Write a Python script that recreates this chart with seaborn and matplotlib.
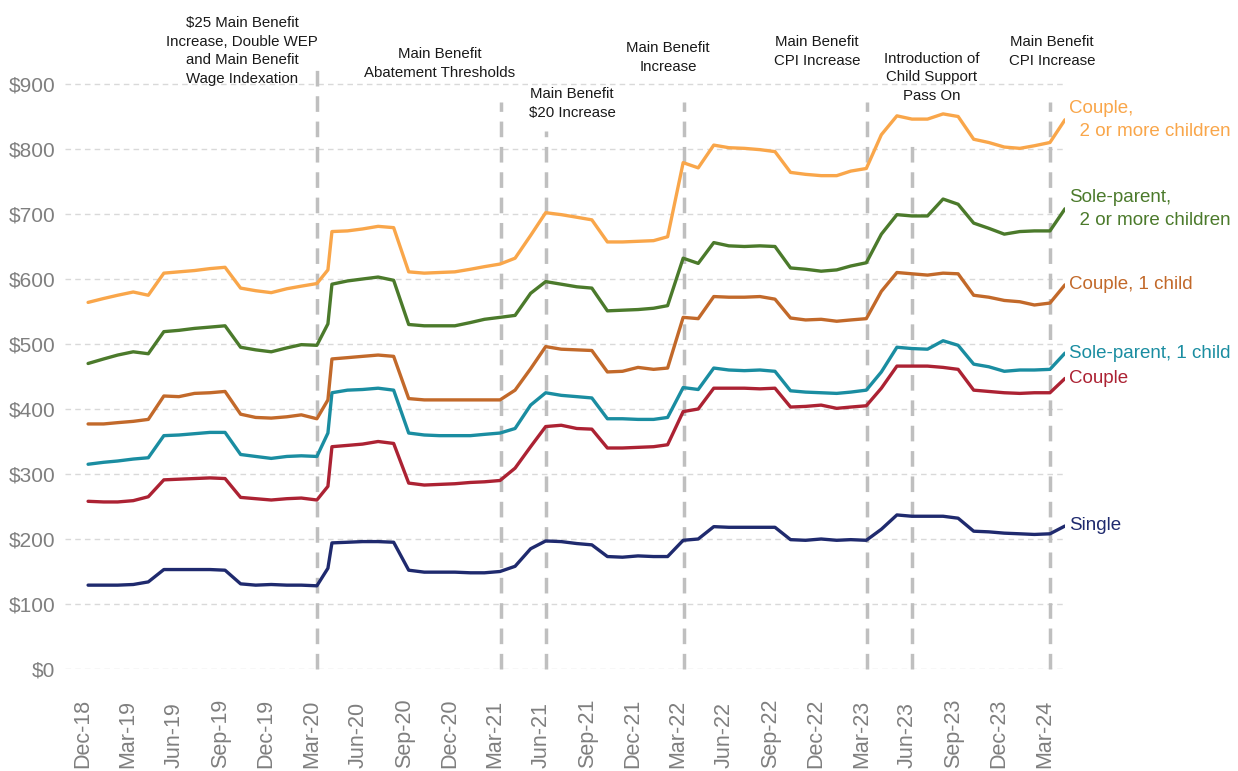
import numpy as np
import pandas as pd
import matplotlib
matplotlib.use("Agg")
import matplotlib.pyplot as plt
import matplotlib.transforms as mtransforms
import seaborn as sns

# Month-end observation dates (plus one mid-April 2020 reading)
dates = [
    "2018-12-31", "2019-01-31", "2019-02-28", "2019-03-31", "2019-04-30", "2019-05-31",
    "2019-06-30", "2019-07-31", "2019-08-31", "2019-09-30", "2019-10-31", "2019-11-30",
    "2019-12-31", "2020-01-31", "2020-02-29", "2020-03-31", "2020-04-22", "2020-04-30",
    "2020-05-31", "2020-06-30", "2020-07-31", "2020-08-31", "2020-09-30", "2020-10-31",
    "2020-11-30", "2020-12-31", "2021-01-31", "2021-02-28", "2021-03-31", "2021-04-30",
    "2021-05-31", "2021-06-30", "2021-07-31", "2021-08-31", "2021-09-30", "2021-10-31",
    "2021-11-30", "2021-12-31", "2022-01-31", "2022-02-28", "2022-03-31", "2022-04-30",
    "2022-05-31", "2022-06-30", "2022-07-31", "2022-08-31", "2022-09-30", "2022-10-31",
    "2022-11-30", "2022-12-31", "2023-01-31", "2023-02-28", "2023-03-31", "2023-04-30",
    "2023-05-31", "2023-06-30", "2023-07-31", "2023-08-31", "2023-09-30", "2023-10-31",
    "2023-11-30", "2023-12-31", "2024-01-31", "2024-02-29", "2024-03-31", "2024-04-30",
]

couple_2plus = [
    564, 570, 575, 580, 575, 609, 611, 613, 616, 618, 586, 582,
    579, 585, 589, 593, 614, 673, 674, 677, 681, 679, 611, 609,
    610, 611, 615, 619, 623, 632, 667, 702, 699, 695, 691, 657,
    657, 658, 659, 665, 779, 771, 806, 802, 801, 799, 796, 764,
    761, 759, 759, 766, 770, 822, 851, 846, 846, 854, 850, 815,
    810, 803, 801, 805, 810, 845,
]
sole_parent_2plus = [
    470, 477, 483, 488, 485, 519, 521, 524, 526, 528, 495, 491,
    488, 494, 499, 498, 531, 592, 597, 600, 603, 598, 530, 528,
    528, 528, 533, 538, 541, 544, 578, 596, 592, 588, 586, 551,
    552, 553, 555, 559, 632, 624, 656, 651, 650, 651, 650, 617,
    615, 612, 614, 620, 625, 669, 699, 697, 697, 723, 715, 686,
    678, 669, 673, 674, 674, 708,
]
couple_1child = [
    377, 377, 379, 381, 384, 420, 419, 424, 425, 427, 392, 387,
    386, 388, 391, 385, 414, 477, 479, 481, 483, 481, 416, 414,
    414, 414, 414, 414, 414, 429, 462, 496, 492, 491, 490, 457,
    458, 464, 461, 463, 541, 539, 573, 572, 572, 573, 569, 540,
    537, 538, 535, 537, 539, 581, 610, 608, 606, 609, 608, 575,
    572, 567, 565, 560, 563, 591,
]
sole_parent_1child = [
    315, 318, 320, 323, 325, 359, 360, 362, 364, 364, 330, 327,
    324, 327, 328, 327, 363, 425, 429, 430, 432, 429, 363, 360,
    359, 359, 359, 361, 363, 370, 406, 425, 421, 419, 417, 385,
    385, 384, 384, 387, 433, 430, 463, 460, 459, 460, 458, 428,
    426, 425, 424, 426, 429, 457, 495, 493, 492, 505, 498, 469,
    465, 458, 460, 460, 461, 486,
]
couple = [
    258, 257, 257, 259, 265, 291, 292, 293, 294, 293, 264, 262,
    260, 262, 263, 260, 281, 342, 344, 346, 350, 347, 286, 283,
    284, 285, 287, 288, 290, 309, 342, 373, 375, 370, 369, 340,
    340, 341, 342, 345, 396, 400, 432, 432, 432, 431, 432, 403,
    404, 406, 401, 403, 405, 432, 466, 466, 466, 464, 461, 429,
    427, 425, 424, 425, 425, 447,
]
single = [
    129, 129, 129, 130, 134, 153, 153, 153, 153, 152, 131, 129,
    130, 129, 129, 128, 155, 194, 195, 196, 196, 195, 152, 149,
    149, 149, 148, 148, 150, 158, 185, 197, 196, 193, 191, 173,
    172, 174, 173, 173, 198, 200, 219, 218, 218, 218, 218, 199,
    198, 200, 198, 199, 198, 215, 237, 235, 235, 235, 232, 212,
    211, 209, 208, 207, 208, 220,
]

series_labels = [
    "Couple,\n  2 or more children",
    "Sole-parent,\n  2 or more children",
    "Couple, 1 child",
    "Sole-parent, 1 child",
    "Couple",
    "Single",
]
series_values = [couple_2plus, sole_parent_2plus, couple_1child,
                 sole_parent_1child, couple, single]
series_colors = ["#F9A64A", "#4B7A2B", "#C2692A", "#1A8DA1", "#AC2233", "#1F2A6E"]

# Policy change dates and their captions
event_dates = ["2020-04-01", "2021-04-01", "2021-07-01", "2022-04-01",
               "2023-04-01", "2023-07-01", "2024-04-01"]
event_captions = [
    "$25 Main Benefit\nIncrease, Double WEP\nand Main Benefit\nWage Indexation",
    "Main Benefit\nAbatement Thresholds",
    "Main Benefit\n$20 Increase",
    "Main Benefit\nIncrease",
    "Main Benefit\nCPI Increase",
    "Introduction of\nChild Support\nPass On",
    "Main Benefit\nCPI Increase",
]

y_ticks = [0, 100, 200, 300, 400, 500, 600, 700, 800, 900]
y_tick_labels = ["$0", "$100", "$200", "$300", "$400", "$500",
                 "$600", "$700", "$800", "$900"]
x_tick_labels = ["Dec-18", "Mar-19", "Jun-19", "Sep-19", "Dec-19", "Mar-20",
                 "Jun-20", "Sep-20", "Dec-20", "Mar-21", "Jun-21", "Sep-21",
                 "Dec-21", "Mar-22", "Jun-22", "Sep-22", "Dec-22", "Mar-23",
                 "Jun-23", "Sep-23", "Dec-23", "Mar-24"]

# Long-format table for seaborn
frames = []
for name, vals in zip(series_labels, series_values):
    frames.append(pd.DataFrame({"date": pd.to_datetime(dates),
                                "amount": vals, "group": name}))
df = pd.concat(frames, ignore_index=True)
palette = dict(zip(series_labels, series_colors))

sns.set_theme(style="white")
plt.rcParams["font.family"] = ["Liberation Sans", "DejaVu Sans"]

W, H = 1238, 771
fig = plt.figure(figsize=(W / 100, H / 100), dpi=100)
ax = fig.add_axes([65 / W, (H - 669) / H, 1000 / W, 940 * 0.65 / H])

sns.lineplot(data=df, x="date", y="amount", hue="group", palette=palette,
             hue_order=series_labels[::-1], linewidth=2.4, legend=False,
             estimator=None, ax=ax)

ax.set_xlim(pd.Timestamp("2018-11-15"), pd.Timestamp("2024-04-30"))
ax.set_ylim(0, 940)

# Dashed policy-change markers
event_tops = [935, 872, 828, 872, 872, 812, 872]
for d, top in zip(event_dates, event_tops):
    ax.vlines(pd.Timestamp(d), 0, top, colors="#BFBFBF", linewidth=2.5,
              linestyles=(0, (4.5, 2.8)), clip_on=False, zorder=1)

# Horizontal grid
ax.set_yticks(y_ticks)
ax.set_yticklabels(y_tick_labels)
ax.yaxis.grid(True, linestyle=(0, (4, 3)), color="#D9D9D9", linewidth=1.0)
ax.xaxis.grid(False)
ax.set_axisbelow(True)

# Quarterly date labels, rotated and anchored at the bottom edge
tick_dates = pd.date_range("2018-12-01", periods=len(x_tick_labels), freq="3MS")
ax.set_xticks(tick_dates)
ax.set_xticklabels([])
lbl_trans = mtransforms.blended_transform_factory(ax.transData, fig.transFigure) + \
    mtransforms.ScaledTranslation(10 / 100, 0, fig.dpi_scale_trans)
for d, lab in zip(tick_dates, x_tick_labels):
    ax.text(d, 3 / H, lab, rotation=90, ha="center", va="bottom",
            fontsize=15.5, color="#7F7F7F", transform=lbl_trans, clip_on=False)

ax.tick_params(axis="y", labelsize=15, labelcolor="#7F7F7F", length=0, pad=7)
ax.tick_params(axis="x", length=0)
for s in ax.spines.values():
    s.set_visible(False)
ax.set_xlabel("")
ax.set_ylabel("")

# Series labels at the end of each line
last_date = pd.Timestamp(dates[-1])
label_shift = mtransforms.ScaledTranslation(4 / 100, 0, fig.dpi_scale_trans)
for name, vals, col in zip(series_labels, series_values, series_colors):
    ax.text(last_date, vals[-1], name, color=col, fontsize=13.5,
            ha="left", va="center", linespacing=1.45,
            transform=ax.transData + label_shift, clip_on=False)

# Event captions above the chart
caption_pos = [(242, 51), (440, 63.5), (572, 103.5), (668, 57.5),
               (817, 51.5), (932, 77.5), (1052, 51.5)]
for (px, py), cap in zip(caption_pos, event_captions):
    fig.text(px / W, 1 - py / H, cap, ha="center", va="center",
             fontsize=10.8, color="#1A1A1A", linespacing=1.42)

fig.savefig("out.png", dpi=100)
